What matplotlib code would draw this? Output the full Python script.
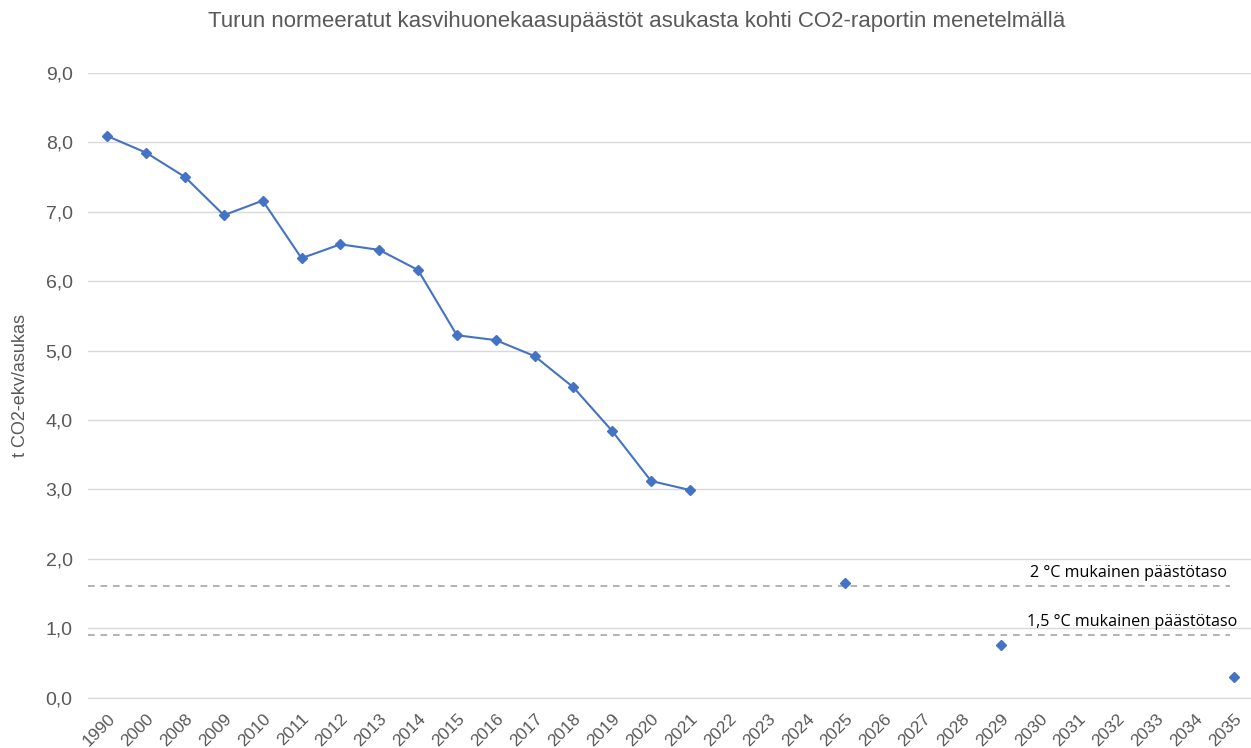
import numpy as np
import matplotlib
matplotlib.use('Agg')
import matplotlib.pyplot as plt
import matplotlib.transforms as mtransforms

# categories on the x axis
years = ['1990', '2000', '2008', '2009', '2010', '2011', '2012', '2013', '2014',
         '2015', '2016', '2017', '2018', '2019', '2020', '2021', '2022', '2023',
         '2024', '2025', '2026', '2027', '2028', '2029', '2030', '2031', '2032',
         '2033', '2034', '2035']

# measured emissions, t CO2-ekv per resident
hist_years = ['1990', '2000', '2008', '2009', '2010', '2011', '2012', '2013', '2014',
              '2015', '2016', '2017', '2018', '2019', '2020', '2021']
hist_vals = [8.09, 7.85, 7.50, 6.95, 7.16, 6.33, 6.53, 6.45, 6.16,
             5.22, 5.15, 4.92, 4.47, 3.84, 3.12, 2.99]

# target points
goal_years = ['2025', '2029', '2035']
goal_vals = [1.65, 0.76, 0.30]

# reference levels
level_2c = 1.61
level_15c = 0.90

blue = '#4472C4'
grey = '#595959'

fig = plt.figure(figsize=(12.51, 7.48), dpi=100)
ax = fig.add_axes([0.0703, 0.0675, 0.9313, 0.835])

xpos = {y: i for i, y in enumerate(years)}
hx = [xpos[y] for y in hist_years]
gx = [xpos[y] for y in goal_years]

ax.plot(hx, hist_vals, color=blue, lw=1.5, marker='D', ms=5.5, zorder=3)
ax.plot(gx, goal_vals, ls='none', color=blue, marker='D', ms=5.5, zorder=3)

ax.plot([-0.5, 28.9], [level_2c, level_2c], color='#A6A6A6', lw=1.2,
        dashes=(4, 3.5), zorder=2)
ax.plot([-0.5, 28.9], [level_15c, level_15c], color='#A6A6A6', lw=1.2,
        dashes=(4, 3.5), zorder=2)
ax.text(28.83, level_2c + 0.07, '2 °C mukainen päästötaso', ha='right', va='bottom',
        fontsize=11.6, family='Open Sans', color='black')
ax.text(29.1, level_15c + 0.08, '1,5 °C mukainen päästötaso', ha='right', va='bottom',
        fontsize=11.6, family='Open Sans', color='black')

ax.set_xlim(-0.5, len(years) - 0.5)
ax.set_ylim(0, 9)
ax.set_yticks(np.arange(0, 10, 1))
ax.set_yticklabels([('%.1f' % v).replace('.', ',') for v in range(10)],
                   fontsize=14, color=grey, family='Liberation Sans')
ax.set_xticks(range(len(years)))
ax.set_xticklabels(years, rotation=45, ha='right', rotation_mode='anchor',
                   fontsize=12.5, color=grey, family='Liberation Sans')
shift = mtransforms.ScaledTranslation(-2 / 100, 0, fig.dpi_scale_trans)
for lab in ax.get_xticklabels():
    lab.set_transform(lab.get_transform() + shift)
ax.tick_params(axis='both', length=0)
ax.tick_params(axis='y', pad=11)
ax.tick_params(axis='x', pad=10)
ax.grid(axis='y', color='#D9D9D9', lw=1)
ax.set_axisbelow(True)
for s in ['top', 'right', 'left']:
    ax.spines[s].set_visible(False)
ax.spines['bottom'].set_color('#D9D9D9')

ax.set_ylabel('t CO2-ekv/asukas', fontsize=13, color=grey, family='Liberation Sans',
              labelpad=12)
fig.text(0.5092, 0.9706, 'Turun normeeratut kasvihuonekaasupäästöt asukasta kohti CO2-raportin menetelmällä',
         ha='center', va='center', fontsize=16, color=grey, family='Liberation Sans')

plt.savefig('out.png', dpi=100)
